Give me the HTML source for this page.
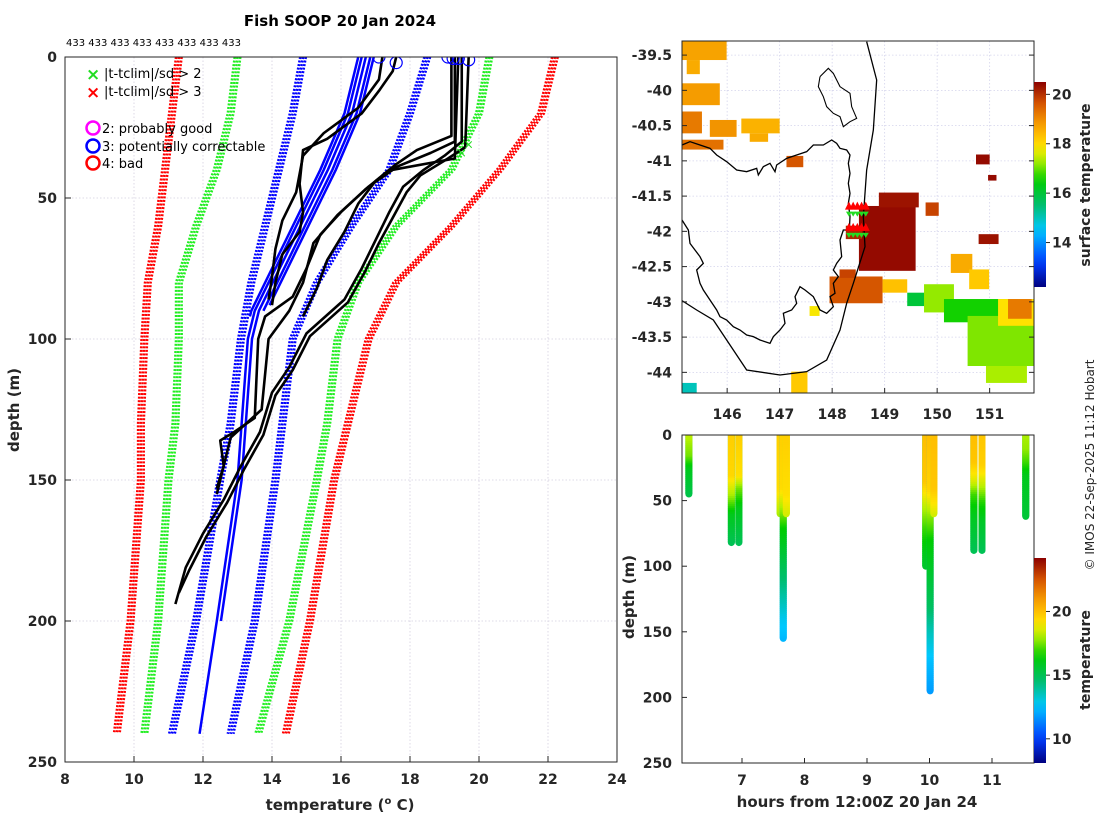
<!DOCTYPE html>
<html><head><meta charset="utf-8"><style>
html,body{margin:0;padding:0;background:#fff;}
svg{display:block;font-family:"DejaVu Sans","Liberation Sans",sans-serif;}
.tk{font-size:14px;font-weight:bold;fill:#262626;}
.lab{font-size:15px;font-weight:bold;fill:#262626;}
</style></head><body>
<svg id="fig" width="1100" height="820" viewBox="0 0 1100 820" xmlns="http://www.w3.org/2000/svg">
<defs>
<clipPath id="clipMain"><rect x="65" y="57" width="552" height="705"/></clipPath>
<clipPath id="clipMap"><rect x="682" y="41" width="352" height="352"/></clipPath>
<clipPath id="clipCast"><rect x="682" y="435" width="352" height="328"/></clipPath>
<linearGradient id="cbTop" x1="0" y1="1" x2="0" y2="0"></linearGradient>
<linearGradient id="cbBot" x1="0" y1="1" x2="0" y2="0"></linearGradient>
</defs>
<rect x="0" y="0" width="1100" height="820" fill="#fff"/>
<text x="340" y="26" text-anchor="middle" style="font-size:15px;font-weight:bold;fill:#000">Fish SOOP 20 Jan 2024</text>
<text x="66" y="46" style="font-size:10px;fill:#000">433 433 433 433 433 433 433 433</text>
<g id="mainGrid"></g>
<g id="mainMarks" clip-path="url(#clipMain)"></g>
<rect x="65" y="57" width="552" height="705" fill="none" stroke="#262626" stroke-width="1"/>
<g id="mainTicks"></g>
<text x="340" y="810" text-anchor="middle" class="lab">temperature (<tspan dy="-6" font-size="10">o</tspan><tspan dy="6"> C)</tspan></text>
<text transform="translate(19,410) rotate(-90)" text-anchor="middle" class="lab">depth (m)</text>
<g style="font-size:13px;fill:#000">
<text x="86" y="80" fill="#22dd22" style="font-size:17px;font-weight:bold">×</text>
<text x="104" y="78">|t-tclim|/sd &gt; 2</text>
<text x="86" y="98" fill="#ff0000" style="font-size:17px;font-weight:bold">×</text>
<text x="104" y="96">|t-tclim|/sd &gt; 3</text>
<circle cx="93" cy="128" r="6.5" fill="none" stroke="#ff00ff" stroke-width="2.5"/>
<text x="102" y="133">2: probably good</text>
<circle cx="93" cy="146" r="6.5" fill="none" stroke="#0000ff" stroke-width="2.5"/>
<text x="102" y="151">3: potentially correctable</text>
<circle cx="93" cy="163" r="6.5" fill="none" stroke="#ff0000" stroke-width="2.5"/>
<text x="102" y="168">4: bad</text>
</g>
<g id="mapGrid"></g>
<g id="mapMarks" clip-path="url(#clipMap)"></g>
<rect x="682" y="41" width="352" height="352" fill="none" stroke="#262626"/>
<g id="mapTicks"></g>
<rect x="1034" y="82" width="12" height="205" fill="url(#cbTop)"/>
<g id="cbTopTicks"></g>
<text transform="translate(1090,185) rotate(-90)" text-anchor="middle" class="lab" style="font-size:14px">surface temperature</text>
<g id="castMarks" clip-path="url(#clipCast)"></g>
<rect x="682" y="435" width="352" height="328" fill="none" stroke="#262626"/>
<g id="castTicks"></g>
<text x="857" y="807" text-anchor="middle" class="lab">hours from 12:00Z 20 Jan 24</text>
<text transform="translate(634,597) rotate(-90)" text-anchor="middle" class="lab">depth (m)</text>
<rect x="1034" y="558" width="12" height="205" fill="url(#cbBot)"/>
<g id="cbBotTicks"></g>
<text transform="translate(1090,660) rotate(-90)" text-anchor="middle" class="lab" style="font-size:14px">temperature</text>
<text transform="translate(1094,465) rotate(-90)" text-anchor="middle" style="font-size:12px;fill:#262626">© IMOS 22-Sep-2025 11:12 Hobart</text>
</svg>
<script>
// ---------- data: main profile plot ----------
const climDepths = [0,20,40,60,80,100,130,150,200,240];
const climLeftRed   = [11.3,11.1,10.9,10.7,10.4,10.3,10.2,10.2,9.9,9.5];
const climLeftGreen = [13.0,12.8,12.4,11.8,11.3,11.3,11.2,11.0,10.7,10.3];
const climLeftBlue  = [14.9,14.6,14.2,13.8,13.4,13.1,12.8,12.5,11.8,11.1];
const climRightBlue = [18.5,18.0,17.4,16.3,15.3,14.6,14.3,14.1,13.5,12.8];
const climRightGreen= [20.3,20.0,19.2,17.6,16.5,15.9,15.6,15.3,14.5,13.6];
const climRightRed  = [22.2,21.8,20.6,19.2,17.6,16.8,16.2,15.8,15.1,14.4];
const climOffsets = [-0.08,0,0.08];
const blueDepths = [0,20,40,50,65,90,100,150,200,240];
const blueTemps  = [16.6,16.2,15.5,15.1,14.5,13.5,13.3,13.0,12.4,11.9];
const blueOffsets = [0,0.12,0.25,0.35,-0.1];
const blueMaxDepth = [240,200,90,88,92];
const blackProfiles = [
 [[0,17.6],[5,17.5],[12,17.1],[20,16.6],[29,15.6],[33,14.9],[45,14.8],[55,14.9],[62,14.8],[70,14.3],[80,14.1],[88,14.0]],
 [[0,17.2],[8,17.1],[18,16.5],[27,15.5],[35,14.9],[48,14.7],[58,14.3],[68,14.1],[78,14.0],[86,13.9]],
 [[0,19.3],[30,19.3],[34,18.6],[40,17.4],[47,16.7],[55,16.0],[63,15.4],[75,15.0],[85,14.6],[92,13.8],[100,13.6],[128,13.5],[133,12.9],[136,12.5],[145,12.6],[153,12.4]],
 [[0,19.4],[36,19.3],[40,17.5],[46,16.8],[56,15.9],[66,15.2],[80,14.9],[90,14.5],[100,13.9],[125,13.7],[135,12.8],[150,12.5],[155,12.4]],
 [[0,19.5],[30,19.5],[35,19.0],[40,18.4],[46,17.8],[55,17.4],[65,17.0],[75,16.6],[86,16.1],[98,15.0],[110,14.5],[119,14.0],[133,13.65],[145,13.1],[157,12.6],[169,12.0],[181,11.5],[194,11.2]],
 [[0,19.7],[32,19.6],[36,19.1],[42,18.3],[48,17.9],[57,17.5],[66,17.1],[76,16.7],[87,16.2],[99,15.1],[111,14.6],[120,14.1],[134,13.75],[146,13.2],[158,12.7],[170,12.1],[182,11.6],[190,11.3]],
 [[0,19.2],[28,19.2],[33,18.2],[38,17.6],[44,17.0],[52,16.5],[62,16.1],[72,15.6],[82,15.3],[92,14.9]]
];
const flagTemps  = [17.1,17.6,19.1,19.25,19.4,19.7];
const flagDepths = [0,2,0,0.5,0.5,1];
const outlierTemps  = [19.7,19.5];
const outlierDepths = [31,34];
const xTicks = [8,10,12,14,16,18,20,22,24];
const yTicks = [0,50,100,150,200,250];

// ---------- data: map ----------
const mapLonTicks = [146,147,148,149,150,151];
const mapLatTicks = [-39.5,-40,-40.5,-41,-41.5,-42,-42.5,-43,-43.5,-44];
const sstTicks = [14,16,18,20];
const sstPatches = [
 [145.14,-39.30,145.99,-39.57,18.7],[145.23,-39.57,145.48,-39.77,18.6],
 [145.14,-39.90,145.86,-40.21,18.8],[145.14,-40.30,145.52,-40.61,19.2],
 [145.67,-40.42,146.18,-40.66,18.9],[146.27,-40.40,147.00,-40.61,18.5],[146.43,-40.61,146.78,-40.73,18.6],
 [145.14,-40.70,145.93,-40.84,19.3],[147.13,-40.93,147.45,-41.09,19.6],
 [148.51,-41.64,149.59,-42.56,20.4],[148.89,-41.45,149.65,-41.66,20.3],[149.78,-41.59,150.03,-41.78,19.8],
 [148.26,-41.92,148.57,-42.11,20.1],[147.95,-42.64,148.96,-43.02,19.6],[148.14,-42.54,148.45,-42.66,19.8],
 [150.74,-40.91,151.00,-41.05,20.4],[150.97,-41.20,151.13,-41.28,20.4],[150.79,-42.04,151.17,-42.18,20.3],
 [150.26,-42.32,150.67,-42.59,18.6],[150.61,-42.54,150.99,-42.82,18.2],[148.96,-42.68,149.43,-42.87,18.3],
 [149.43,-42.87,149.94,-43.06,16.0],[149.75,-42.75,150.32,-43.15,17.2],[150.13,-42.96,151.84,-43.29,16.6],
 [150.58,-43.20,151.84,-43.91,17.1],[150.93,-43.91,151.71,-44.15,17.3],
 [151.16,-42.96,151.84,-43.34,17.9],[151.35,-42.96,151.80,-43.24,19.2],
 [147.57,-43.06,147.76,-43.20,17.8],[147.22,-43.99,147.53,-44.30,18.2],[145.14,-44.15,145.42,-44.30,15.0]
];
const obsLons = [148.32,148.40,148.48,148.56,148.64];
const obsLats = [-41.65,-41.95];
const tasCoast = [[186,345],[210,335],[240,345],[270,355],[290,375],[320,395],[350,420],[380,425],[410,415],[415,435],[430,410],[450,400],[465,425],[470,405],[500,385],[530,375],[560,365],[580,345],[610,345],[635,330],[650,340],[660,355],[680,360],[690,375],[685,400],[690,430],[685,460],[690,490],[685,520],[690,560],[688,600],[670,600],[660,630],[665,680],[650,700],[640,720],[655,740],[640,760],[645,790],[630,800],[640,830],[620,850],[600,840],[590,820],[580,800],[555,780],[540,770],[525,800],[530,820],[515,840],[490,850],[495,880],[480,900],[460,920],[450,940],[420,930],[400,920],[380,915],[360,900],[340,890],[320,870],[300,860],[290,840],[270,810],[250,780],[240,760],[230,720],[250,700],[240,680],[210,640],[205,600],[186,570]];
const shelfLine = [[186,812],[230,840],[280,870],[320,930],[380,1020],[480,1035],[560,1025],[620,990],[660,900],[680,820],[700,760],[735,650],[730,560],[740,420],[760,300],[770,150],[740,35]];
const flinders = [[600,140],[625,115],[640,130],[660,170],[690,190],[695,230],[710,265],[690,275],[670,290],[660,260],[640,250],[620,230],[610,200],[595,170],[600,140]];

// ---------- data: casts ----------
const castHours = [6.15,6.83,6.95,7.61,7.66,7.71,9.94,10.01,10.07,10.71,10.84,11.54];
const castDepths = [[0,15,25,45],[0,30,45,60,82],[0,30,40,55,82],[0,40,60],[0,40,55,70,90,110,140,155],[0,45,60],[0,35,50,70,90,100],[0,40,60,80,100,130,150,170,195],[0,40,60],[0,20,35,45,60,88],[0,22,38,50,65,88],[0,10,20,30,62]];
const castTemps  = [[18.2,17.5,16,15.2],[19.6,19.4,18,16,15],[19.6,19.2,17.5,16,15],[19.6,19.3,18],[19.6,19.3,18,16.5,15.5,14.5,12.8,12.3],[19.6,19.2,18.5],[20,19.8,18.5,17,16,15.7],[20,19.5,17.8,16.4,15.8,14.8,13.5,12.5,11.8],[20,19.8,18.5],[20,19.8,18.5,17,16,15],[19.8,19.6,18.2,16.8,15.8,15],[18,17.8,17,16,15.5]];
const hourTicks = [7,8,9,10,11];
const castDepthTicks = [0,50,100,150,200,250];
const cbBotTicks = [10,15,20];

// ---------- scales ----------
const NS='http://www.w3.org/2000/svg';
const mx = t => 65 + (t-8)*34.5, my = d => 57 + d*2.82;
const lx = lon => 682 + (lon-145.14)*52.5, ly = lat => 41 + (-39.3-lat)*70.5;
const zToLon = zx => 145.14 + (620+zx/3-682)/52.5, zToLat = zy => -39.3 - (30+zy/3-41)/70.5;
const hx = h => 682 + (h-6.04)*62.5, hy = d => 435 + d*1.312;
const cbTopY = t => 287 - (t-12.2)/(20.5-12.2)*205;
const cbBotY = t => 763 - (t-8.1)/(24.2-8.1)*205;
const cmapStops=[[0,[0,0,127]],[0.12,[0,60,255]],[0.28,[0,200,255]],[0.4,[0,190,110]],[0.52,[0,205,0]],[0.62,[180,240,0]],[0.68,[255,230,0]],[0.74,[255,190,0]],[0.82,[240,140,0]],[0.9,[210,80,0]],[1,[139,0,0]]];
function cmap(f){f=Math.max(0,Math.min(1,f));for(let i=1;i<cmapStops.length;i++){if(f<=cmapStops[i][0]){const a=cmapStops[i-1],b=cmapStops[i];const u=(f-a[0])/(b[0]-a[0]);return 'rgb('+a[1].map((v,k)=>Math.round(v+(b[1][k]-v)*u)).join(',')+')';}}return 'rgb(139,0,0)';}
const sstColor = t => cmap((t-12.2)/(20.5-12.2));
const castColor = t => cmap((t-8.1)/(24.2-8.1));
function el(tag,attrs,parent){const e=document.createElementNS(NS,tag);for(const k in attrs)e.setAttribute(k,attrs[k]);parent.appendChild(e);return e;}
function interp(xs,ys,x){for(let i=1;i<xs.length;i++){if(x<=xs[i]){const u=(x-xs[i-1])/(xs[i]-xs[i-1]);return ys[i-1]+(ys[i]-ys[i-1])*u;}}return ys[ys.length-1];}

// ---------- main plot ----------
const g=document.getElementById('mainGrid'), mk=document.getElementById('mainMarks'), tk=document.getElementById('mainTicks');
xTicks.forEach(t=>{ if(t>8&&t<24){const l=el('line',{x1:mx(t),x2:mx(t),y1:57,y2:762,stroke:'#d4cfe0','stroke-width':0.8,'stroke-dasharray':'1.5 2'},g);

}
 const tl=el('line',{x1:mx(t),x2:mx(t),y1:762,y2:756,stroke:'#262626'},tk);
 
 
 const tt=el('text',{x:mx(t),y:784,'text-anchor':'middle',class:'tk'},tk);tt.textContent=t;
 
 });
yTicks.forEach(d=>{ if(d>0&&d<250){const l=el('line',{x1:65,x2:617,y1:my(d),y2:my(d),stroke:'#d4cfe0','stroke-width':0.8,'stroke-dasharray':'1.5 2'},g);

}
 const tl=el('line',{x1:65,x2:71,y1:my(d),y2:my(d),stroke:'#262626'},tk);
 
 
 const tt=el('text',{x:57,y:my(d)+5,'text-anchor':'end',class:'tk'},tk);tt.textContent=d;
 
 });
const climSets=[[climLeftRed,'#ff0000','clim-minus-3sd'],[climLeftGreen,'#22ee22','clim-minus-2sd'],[climLeftBlue,'#0000ff','clim-minus-1sd'],[climRightBlue,'#0000ff','clim-plus-1sd'],[climRightGreen,'#22ee22','clim-plus-2sd'],[climRightRed,'#ff0000','clim-plus-3sd']];
climSets.forEach(s=>{climOffsets.forEach(o=>{
 const pts=climDepths.map((d,i)=>mx(s[0][i]+o)+','+my(d)).join(' ');
 const p=el('polyline',{points:pts,fill:'none',stroke:s[1],'stroke-width':2.6,'stroke-dasharray':'2 1.6'},mk);
 
 });});
blueOffsets.forEach((o,k)=>{
 const pts=[];blueDepths.forEach((d,i)=>{if(d<=blueMaxDepth[k])pts.push(mx(blueTemps[i]+o)+','+my(d));});
 const last=blueMaxDepth[k];if(blueDepths.indexOf(last)<0)pts.push(mx(interp(blueDepths,blueTemps,last)+o)+','+my(last));
 const p=el('polyline',{points:pts.join(' '),fill:'none',stroke:'#0000ff','stroke-width':2.5},mk);
 
 });
blackProfiles.forEach(pr=>{
 const p=el('polyline',{points:pr.map(q=>mx(q[1])+','+my(q[0])).join(' '),fill:'none',stroke:'#000','stroke-width':2.6,'stroke-linejoin':'round'},mk);
 
 });
flagTemps.forEach((t,i)=>{const c=el('circle',{cx:mx(t),cy:my(flagDepths[i]),r:6,fill:'none',stroke:'#0000ff','stroke-width':1.2},mk);
 
 });
outlierTemps.forEach((t,i)=>{const x=el('text',{x:mx(t),y:my(outlierDepths[i])+4,'text-anchor':'middle',fill:'#22dd22',style:'font-size:12px'},mk);x.textContent='×';
 
 });

// ---------- map ----------
const mg=document.getElementById('mapGrid'), mm=document.getElementById('mapMarks'), mt=document.getElementById('mapTicks');
mapLonTicks.forEach(lon=>{const l=el('line',{x1:lx(lon),x2:lx(lon),y1:41,y2:393,stroke:'#d4d4ec','stroke-width':0.8,'stroke-dasharray':'1.5 2'},mg);
 
 
 const t=el('text',{x:lx(lon),y:419,'text-anchor':'middle',class:'tk'},mt);t.textContent=lon;
 
 
 el('line',{x1:lx(lon),x2:lx(lon),y1:393,y2:388,stroke:'#262626'},mt);});
mapLatTicks.forEach(lat=>{const l=el('line',{x1:682,x2:1034,y1:ly(lat),y2:ly(lat),stroke:'#d4d4ec','stroke-width':0.8,'stroke-dasharray':'1.5 2'},mg);
 
 
 const t=el('text',{x:672,y:ly(lat)+5,'text-anchor':'end',class:'tk'},mt);t.textContent=lat;
 
 
 el('line',{x1:682,x2:687,y1:ly(lat),y2:ly(lat),stroke:'#262626'},mt);el('line',{x1:1034,x2:1029,y1:ly(lat),y2:ly(lat),stroke:'#262626'},mt);});
sstPatches.forEach(p=>{const r=el('rect',{x:lx(p[0]),y:ly(p[1]),width:lx(p[2])-lx(p[0]),height:ly(p[3])-ly(p[1]),fill:sstColor(p[4])},mm);
 
 });
function trace(arr,name,w){const pts=arr.map(q=>lx(zToLon(q[0]))+','+ly(zToLat(q[1]))).join(' ');
 const p=el('polyline',{points:pts,fill:'none',stroke:'#000','stroke-width':w},mm);
 
 }
trace(tasCoast,'tasmania-coastline',1.3);trace(shelfLine,'shelf-contour',1.3);trace(flinders,'flinders-island-coastline',1.1);
obsLats.forEach(lat=>obsLons.forEach(lon=>{const x=lx(lon),y=ly(lat);
 const t=el('polygon',{points:(x-4)+','+(y+3)+' '+(x+4)+','+(y+3)+' '+x+','+(y-5),fill:'#ff0000'},mm);
 
 
 const v=el('polygon',{points:(x-3)+','+(y+5)+' '+(x+3)+','+(y+5)+' '+x+','+(y+10),fill:'#22dd22'},mm);
 
 }));
function fillGrad(id,lo,hi,fn){const gr=document.getElementById(id);for(let i=0;i<=20;i++){const t=lo+(hi-lo)*i/20;el('stop',{offset:(i*5)+'%','stop-color':fn(t)},gr);}}
fillGrad('cbTop',12.2,20.5,sstColor);fillGrad('cbBot',8.1,24.2,castColor);
const ct=document.getElementById('cbTopTicks');
sstTicks.forEach(t=>{el('line',{x1:1046,x2:1050,y1:cbTopY(t),y2:cbTopY(t),stroke:'#262626'},ct);
 const x=el('text',{x:1052,y:cbTopY(t)+5,class:'tk'},ct);x.textContent=t;
 
 });
const cb=document.getElementById('cbBotTicks');
cbBotTicks.forEach(t=>{el('line',{x1:1046,x2:1050,y1:cbBotY(t),y2:cbBotY(t),stroke:'#262626'},cb);
 const x=el('text',{x:1052,y:cbBotY(t)+5,class:'tk'},cb);x.textContent=t;
 
 });

// ---------- casts ----------
const cm=document.getElementById('castMarks'), cti=document.getElementById('castTicks');
hourTicks.forEach(h=>{el('line',{x1:hx(h),x2:hx(h),y1:763,y2:758,stroke:'#262626'},cti);
 const t=el('text',{x:hx(h),y:785,'text-anchor':'middle',class:'tk'},cti);t.textContent=h;
 
 });
castDepthTicks.forEach(d=>{el('line',{x1:682,x2:687,y1:hy(d),y2:hy(d),stroke:'#262626'},cti);
 const t=el('text',{x:672,y:hy(d)+5,'text-anchor':'end',class:'tk'},cti);t.textContent=d;
 
 });
castHours.forEach((h,k)=>{const ds=castDepths[k],ts=castTemps[k],maxd=ds[ds.length-1];
 const grp=el('g',{},cm);
 
 
 el('line',{x1:hx(h),x2:hx(h),y1:hy(0),y2:hy(maxd),stroke:castColor(ts[ts.length-1]),'stroke-width':7,'stroke-linecap':'round'},grp);
 for(let d=0;d<maxd;d+=1.5){el('line',{x1:hx(h),x2:hx(h),y1:hy(d),y2:hy(Math.min(maxd,d+2)),stroke:castColor(interp(ds,ts,d)),'stroke-width':7},grp);}
});
</script>
</body></html>
